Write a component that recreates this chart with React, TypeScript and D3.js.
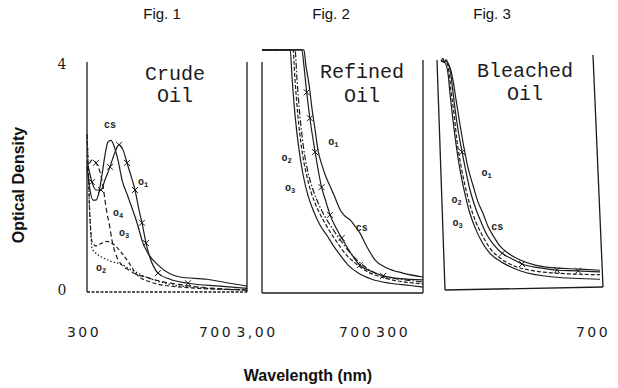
import React, { useEffect, useRef } from "react";
import * as d3 from "d3";

type Pt = [number, number]; // [wavelength nm, optical density]

// ---- Fig. 1 : crude oil ----
const crudeCS: Pt[] = [[300, 2.2], [307.5, 1.77], [315, 1.59], [322.5, 1.59], [330, 1.73], [337.5, 2.04], [345, 2.39], [352.5, 2.62], [360, 2.65], [367.5, 2.55], [377.5, 2.3], [387.5, 1.95], [402.5, 1.65], [425, 1.19], [440, 0.83], [452.5, 0.65], [482.5, 0.41], [532.5, 0.23], [600, 0.19], [657.5, 0.12], [700, 0.07]];
const crudeO1: Pt[] = [[300, 2.3], [302.5, 2.21], [312.5, 1.91], [322.5, 1.77], [335, 1.77], [345, 1.95], [357.5, 2.18], [370, 2.44], [380, 2.57], [390, 2.48], [400, 2.25], [410, 2.02], [420, 1.77], [430, 1.42], [437.5, 1.19], [447.5, 0.83], [457.5, 0.57], [477.5, 0.3], [507.5, 0.19], [552.5, 0.12], [632.5, 0.07], [700, 0.03]];
const crudeO1Marks = [2, 4, 6, 8, 10, 12, 14, 15, 17, 19];
const crudeO4: Pt[] = [[300, 2.1], [302.5, 2.16], [312.5, 2.3], [322.5, 2.25], [332.5, 2.09], [340, 1.84], [345, 1.59], [350, 1.36], [355, 1.19], [362.5, 0.88], [370, 0.67], [380, 0.51], [405, 0.35], [455, 0.21], [537.5, 0.09], [700, 0.0]];
const crudeO4Marks = [3];
const crudeO3: Pt[] = [[300, 2.75], [304, 2.0], [306, 1.5], [309, 1.1], [312.5, 0.85], [322.5, 0.78], [337.5, 0.83], [350, 0.86], [367.5, 0.8], [387.5, 0.65], [405, 0.48], [425, 0.27], [455, 0.15], [520, 0.06], [700, 0.0]];
const crudeO2: Pt[] = [[300, 2.75], [304, 2.0], [306, 1.5], [309, 1.05], [312.5, 0.74], [322.5, 0.65], [337.5, 0.58], [362.5, 0.5], [380, 0.47], [412.5, 0.35], [455, 0.21], [495, 0.12], [580, 0.04], [700, 0.0]];

// ---- Fig. 2 : refined oil ----
const refinedCS: Pt[] = [[300, 4.25], [404, 4.25], [409, 3.98], [417, 3.63], [424, 3.22], [432, 2.83], [439, 2.48], [449, 2.21], [459, 2.0], [471, 1.81], [484, 1.59], [494, 1.42], [506, 1.31], [519, 1.24], [531, 1.13], [543, 1.01], [561, 0.76], [581, 0.53], [610, 0.39], [650, 0.3], [700, 0.23]];
const refinedO1: Pt[] = [[300, 4.25], [399, 4.25], [404, 3.98], [411, 3.5], [419, 3.04], [432, 2.44], [448, 1.82], [459, 1.56], [469, 1.33], [484, 1.1], [498, 0.92], [519, 0.67], [543, 0.44], [568, 0.34], [601, 0.25], [643, 0.2], [700, 0.18]];
const refinedO1Marks = [3, 4, 5, 6, 8, 10, 12, 14];
const refinedO4: Pt[] = [[300, 4.25], [382, 4.25], [387, 3.72], [394, 3.1], [404, 2.48], [414, 2.09], [427, 1.77], [442, 1.5], [457, 1.29], [474, 1.1], [491, 0.92], [511, 0.73], [536, 0.53], [568, 0.35], [611, 0.23], [655, 0.18], [700, 0.14]];
const refinedO2: Pt[] = [[300, 4.25], [377, 4.25], [382, 3.72], [389, 3.1], [399, 2.48], [409, 2.09], [422, 1.73], [437, 1.45], [452, 1.24], [469, 1.03], [486, 0.85], [506, 0.65], [531, 0.48], [563, 0.32], [606, 0.21], [655, 0.14], [700, 0.11]];
const refinedO3: Pt[] = [[300, 4.25], [370, 4.25], [375, 3.72], [382, 3.1], [392, 2.48], [402, 2.04], [414, 1.68], [429, 1.38], [444, 1.15], [462, 0.96], [476, 0.8], [494, 0.62], [514, 0.44], [539, 0.3], [573, 0.19], [618, 0.12], [668, 0.08], [700, 0.05]];

// ---- Fig. 3 : bleached oil ----
const bleachedCS: Pt[] = [[300, 4.05], [305, 4.1], [309, 4.03], [313, 4.08], [318, 4.0], [323, 3.93], [330, 3.72], [338, 3.36], [348, 2.92], [358, 2.51], [368, 2.16], [381, 1.84], [393, 1.56], [406, 1.35], [418, 1.13], [433, 0.94], [448, 0.78], [469, 0.65], [499, 0.53], [537, 0.44], [587, 0.39], [650, 0.37], [700, 0.35]];
const bleachedO1: Pt[] = [[300, 4.05], [315, 4.04], [323, 3.89], [328, 3.63], [335, 3.22], [343, 2.83], [353, 2.44], [363, 2.09], [373, 1.77], [386, 1.47], [401, 1.2], [416, 0.97], [433, 0.8], [454, 0.65], [479, 0.55], [504, 0.46], [549, 0.39], [592, 0.35], [645, 0.34], [700, 0.32]];
const bleachedO1Marks = [6, 13, 15, 17, 18];
const bleachedO2: Pt[] = [[300, 4.05], [315, 4.02], [320, 3.86], [325, 3.54], [333, 3.1], [340, 2.65], [350, 2.21], [360, 1.86], [373, 1.5], [388, 1.2], [406, 0.94], [423, 0.74], [448, 0.57], [479, 0.44], [524, 0.35], [587, 0.3], [700, 0.27]];
const bleachedO3: Pt[] = [[300, 4.05], [310, 4.02], [318, 3.81], [323, 3.45], [330, 3.01], [338, 2.57], [348, 2.12], [358, 1.77], [370, 1.42], [386, 1.1], [403, 0.85], [423, 0.65], [456, 0.48], [499, 0.34], [582, 0.23], [700, 0.19]];

const xTicks = [300, 700];
const yTicks = [0, 4];

type Series = { data: Pt[]; dash: string; marks?: number[] };
type Label = { text: string; sub?: string; at: Pt };

const panels = [
  {
    fig: "Fig. 1", figX: 162, name: ["Crude", "Oil"], nameX: 175, nameY: [80, 102],
    range: [87, 247], tickX: [84, 216],
    borders: [[[87, 62], [87, 292]], [[247, 62], [247, 292]], [[87, 292], [247, 292]]],
    bottomDash: "3,1.5",
    series: [
      { data: crudeCS, dash: "" },
      { data: crudeO1, dash: "", marks: crudeO1Marks },
      { data: crudeO4, dash: "5,3", marks: crudeO4Marks },
      { data: crudeO3, dash: "4,2.5" },
      { data: crudeO2, dash: "1.5,2" },
    ] as Series[],
    labels: [
      { text: "cs", at: [357.5, 2.92] }, { text: "o", sub: "1", at: [440, 1.91] },
      { text: "o", sub: "4", at: [377.5, 1.36] }, { text: "o", sub: "3", at: [392.5, 1.01] },
      { text: "o", sub: "2", at: [335, 0.39] },
    ] as Label[],
  },
  {
    fig: "Fig. 2", figX: 331, name: ["Refined", "Oil"], nameX: 362, nameY: [78, 102],
    range: [262, 423], tickX: [257, 356],
    borders: [[[262, 62], [262, 293]], [[423, 60], [423, 293]], [[262, 293], [423, 293]]],
    bottomDash: "",
    series: [
      { data: refinedCS, dash: "" },
      { data: refinedO1, dash: "", marks: refinedO1Marks },
      { data: refinedO4, dash: "6,2,1.5,2" },
      { data: refinedO2, dash: "4,2" },
      { data: refinedO3, dash: "" },
    ] as Series[],
    labels: [
      { text: "o", sub: "1", at: [477, 2.62] }, { text: "o", sub: "2", at: [361, 2.33] },
      { text: "o", sub: "3", at: [369.6, 1.8] }, { text: "cs", at: [547.7, 1.09] },
    ] as Label[],
  },
  {
    fig: "Fig. 3", figX: 492, name: ["Bleached", "Oil"], nameX: 525, nameY: [77, 100],
    range: [441, 600], tickX: [393, 593],
    borders: [[[437, 60], [445, 290]], [[593, 55], [603, 287]], [[445, 290], [603, 287]]],
    bottomDash: "",
    series: [
      { data: bleachedCS, dash: "" },
      { data: bleachedO1, dash: "", marks: bleachedO1Marks },
      { data: bleachedO2, dash: "4,2" },
      { data: bleachedO3, dash: "" },
    ] as Series[],
    labels: [
      { text: "o", sub: "1", at: [415, 2.07] }, { text: "o", sub: "2", at: [339.5, 1.59] },
      { text: "o", sub: "3", at: [342, 1.18] }, { text: "cs", at: [441.6, 1.12] },
    ] as Label[],
  },
];

const INK = "#1c1c1c";

const App: React.FC = () => {
  const svgRef = useRef<SVGSVGElement | null>(null);

  useEffect(() => {
    const width = 618;
    const height = 388;
    const svg = d3.select(svgRef.current).attr("width", width).attr("height", height);
    svg.selectAll("*").remove();

    svg.append("rect").attr("width", width).attr("height", height).attr("fill", "#fff");

    const y = d3.scaleLinear().domain([0, 4]).range([290, 64]);

    // y ticks, only left of Fig. 1
    svg.selectAll("text.ytick")
      .data(yTicks)
      .enter()
      .append("text")
      .attr("class", "ytick")
      .attr("x", 62)
      .attr("y", (d) => y(d) + 5)
      .attr("text-anchor", "middle")
      .attr("font-family", "'DejaVu Serif', serif")
      .attr("font-size", 14)
      .attr("fill", INK)
      .text((d) => d);

    panels.forEach((p, pi) => {
      const g = svg.append("g");
      const x = d3.scaleLinear().domain([300, 700]).range(p.range);
      const tickPos = d3.scaleLinear().domain([300, 700]).range(p.tickX);

      g.append("text")
        .attr("x", p.figX)
        .attr("y", 19)
        .attr("text-anchor", "middle")
        .attr("font-family", "'Liberation Sans', Arial, sans-serif")
        .attr("font-size", 15)
        .attr("fill", "#111")
        .text(p.fig);

      p.borders.forEach((b, bi) => {
        g.append("line")
          .attr("x1", b[0][0]).attr("y1", b[0][1])
          .attr("x2", b[1][0]).attr("y2", b[1][1])
          .attr("stroke", INK)
          .attr("stroke-width", 1.3)
          .attr("stroke-dasharray", bi === 2 && p.bottomDash ? p.bottomDash : null);
      });

      const line = d3.line<Pt>()
        .x((d) => x(d[0]))
        .y((d) => y(d[1]))
        .curve(d3.curveMonotoneX);

      p.series.forEach((s) => {
        g.append("path")
          .attr("d", line(s.data))
          .attr("fill", "none")
          .attr("stroke", INK)
          .attr("stroke-width", 1.2)
          .attr("stroke-dasharray", s.dash || null);
        (s.marks || []).forEach((i) => {
          const d = s.data[i];
          g.append("path")
            .attr("d", "M-3,-3L3,3M-3,3L3,-3")
            .attr("transform", `translate(${x(d[0])},${y(d[1])})`)
            .attr("stroke", INK)
            .attr("stroke-width", 1);
        });
      });

      p.labels.forEach((l) => {
        const t = g.append("text")
          .attr("x", x(l.at[0]))
          .attr("y", y(l.at[1]) + 3)
          .attr("text-anchor", "middle")
          .attr("font-family", "'Liberation Mono', monospace")
          .attr("font-size", 10)
          .attr("font-weight", "bold")
          .attr("fill", INK)
          .text(l.text);
        if (l.sub) {
          t.append("tspan").attr("dy", 2).attr("font-size", 7).text(l.sub);
        }
      });

      p.name.forEach((n, i) => {
        g.append("text")
          .attr("x", p.nameX)
          .attr("y", p.nameY[i])
          .attr("text-anchor", "middle")
          .attr("font-family", "'Liberation Mono', 'Courier New', monospace")
          .attr("font-size", 20)
          .attr("fill", INK)
          .text(n);
      });

      g.selectAll("text.xtick")
        .data(xTicks)
        .enter()
        .append("text")
        .attr("class", "xtick")
        .attr("x", (d) => tickPos(d))
        .attr("y", 337)
        .attr("text-anchor", "middle")
        .attr("font-family", "'DejaVu Sans', sans-serif")
        .attr("font-size", 14)
        .attr("letter-spacing", 2.5)
        .attr("fill", INK)
        .text((d) => (pi === 1 && d === 300 ? "3,00" : String(d)));
    });

    svg.append("text")
      .attr("transform", "translate(24,185) rotate(-90)")
      .attr("text-anchor", "middle")
      .attr("font-family", "'Liberation Sans', Arial, sans-serif")
      .attr("font-weight", "bold")
      .attr("font-size", 16)
      .attr("fill", "#111")
      .text("Optical Density");

    svg.append("text")
      .attr("x", 308)
      .attr("y", 381)
      .attr("text-anchor", "middle")
      .attr("font-family", "'Liberation Sans', Arial, sans-serif")
      .attr("font-weight", "bold")
      .attr("font-size", 16)
      .attr("fill", "#111")
      .text("Wavelength (nm)");
  }, []);

  return <svg ref={svgRef} style={{ position: "absolute", left: 0, top: 0, display: "block" }} />;
};

export default App;
